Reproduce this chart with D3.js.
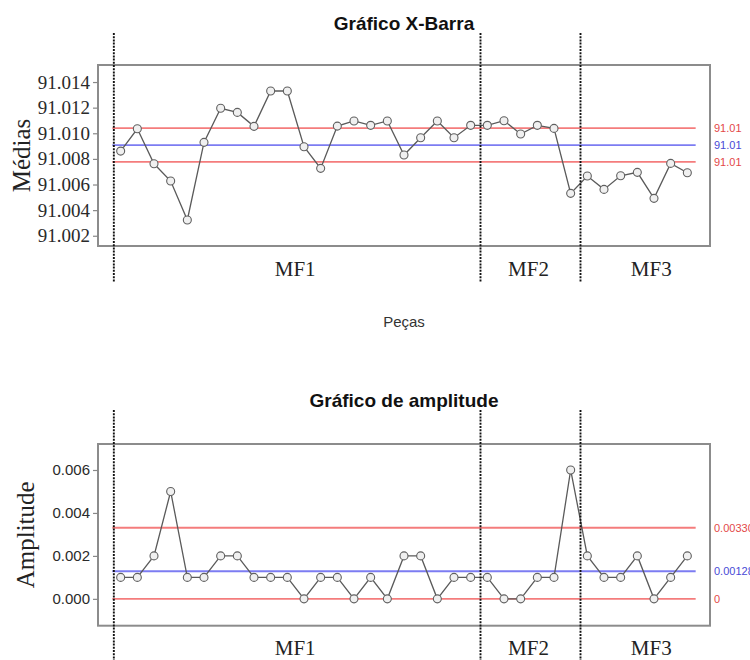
<!DOCTYPE html>
<html>
<head>
<meta charset="utf-8">
<script src="https://cdn.jsdelivr.net/npm/d3@7/dist/d3.min.js"></script>
<style>
  html, body { margin: 0; padding: 0; background: #fff; }
  svg { display: block; }
</style>
</head>
<body>
<script>
// Machine groups and how many parts each one contributed
const groupNames = ["MF1", "MF2", "MF3"];
const groupSizes = [22, 6, 7];

// Subgroup means (n = 3 measurements per part)
const meanValues = [
  91.00861, 91.01035, 91.00762, 91.00627, 91.00323, 91.00929, 91.01195, 91.01163,
  91.01054, 91.01330, 91.01330, 91.00895, 91.00726, 91.01056, 91.01096, 91.01062,
  91.01096, 91.00830, 91.00965, 91.01096, 91.00965, 91.01062, 91.01062, 91.01098,
  91.00994, 91.01062, 91.01038, 91.00531, 91.00666, 91.00562, 91.00668, 91.00695,
  91.00492, 91.00765, 91.00692
];

// Subgroup ranges
const rangeValues = [
  0.001, 0.001, 0.002, 0.005, 0.001, 0.001, 0.002, 0.002, 0.001, 0.001, 0.001, 0.000,
  0.001, 0.001, 0.000, 0.001, 0.000, 0.002, 0.002, 0.000, 0.001, 0.001, 0.001, 0.000,
  0.000, 0.001, 0.001, 0.006, 0.002, 0.001, 0.001, 0.002, 0.000, 0.001, 0.002
];

const meanTicks  = [91.002, 91.004, 91.006, 91.008, 91.010, 91.012, 91.014];
const rangeTicks = [0.000, 0.002, 0.004, 0.006];

// Shewhart constants for subgroups of size 3
const A2 = 1.023, D3 = 0, D4 = 2.574;

const W = 750, H = 660;
const SERIF = "'Liberation Serif', 'Times New Roman', serif";
const SANS  = "'Liberation Sans', Arial, sans-serif";

const svg = d3.select("body").append("svg")
  .attr("width", W).attr("height", H);

const n = meanValues.length;

// Shared horizontal scale (4% padding on each side)
const pad = (n - 1) * 0.04;
const x = d3.scaleLinear().domain([1 - pad, n + pad]).range([98, 710]);

// Group boundaries (index of last part before each group)
const bounds = [];
let acc = 0;
groupSizes.forEach(s => { bounds.push(acc); acc += s; });

const rBar = d3.mean(rangeValues);
const xBar = d3.mean(meanValues);

const fmtLimit = d3.format(".4~g");

function panel(opts) {
  const g = svg.append("g");
  const y = d3.scaleLinear().domain(opts.domain).range([opts.bottom, opts.top]);

  // Title
  g.append("text")
    .attr("x", (x.range()[0] + x.range()[1]) / 2)
    .attr("y", opts.titleY)
    .attr("text-anchor", "middle")
    .attr("font-family", SANS).attr("font-weight", "bold")
    .attr("font-size", 19).attr("fill", "#111")
    .text(opts.title);

  // Frame
  g.append("rect")
    .attr("x", x.range()[0]).attr("y", opts.top)
    .attr("width", x.range()[1] - x.range()[0])
    .attr("height", opts.bottom - opts.top)
    .attr("fill", "none").attr("stroke", "#8c8c8c").attr("stroke-width", 2);

  // Left axis
  const axis = g.append("g")
    .attr("transform", `translate(${x.range()[0]},0)`)
    .call(d3.axisLeft(y).tickValues(opts.ticks).tickFormat(d3.format(".3f"))
      .tickSize(5).tickPadding(3));
  axis.select(".domain").remove();
  axis.selectAll(".tick line").attr("stroke", "#888").attr("stroke-width", 1.2);
  axis.selectAll(".tick text")
    .attr("font-family", opts.tickFont).attr("font-size", opts.tickSize)
    .attr("fill", "#2a2a2a");

  // Y label
  g.append("text")
    .attr("transform", `translate(${opts.ylabX},${(opts.top + opts.bottom) / 2}) rotate(-90)`)
    .attr("text-anchor", "middle").attr("dominant-baseline", "central")
    .attr("font-family", SERIF).attr("font-size", 25).attr("fill", "#222")
    .text(opts.ylabel);

  // Control limits
  const x0 = x(0.5), x1 = x(n + 0.5);
  opts.limits.forEach(l => {
    g.append("line")
      .attr("x1", x0).attr("x2", x1)
      .attr("y1", y(l.value)).attr("y2", y(l.value))
      .attr("stroke", l.line).attr("stroke-width", 1.8);
    g.append("text")
      .attr("x", x.range()[1] + 4).attr("y", y(l.value))
      .attr("dominant-baseline", "central")
      .attr("font-family", SANS).attr("font-size", 11)
      .attr("fill", l.text)
      .text(fmtLimit(l.value));
  });

  // Series
  const line = d3.line().x((d, i) => x(i + 1)).y(d => y(d));
  g.append("path")
    .datum(opts.values)
    .attr("d", line)
    .attr("fill", "none").attr("stroke", "#5a5a5a").attr("stroke-width", 1.3);
  g.selectAll("circle.pt")
    .data(opts.values).join("circle")
    .attr("class", "pt")
    .attr("cx", (d, i) => x(i + 1)).attr("cy", d => y(d))
    .attr("r", 4)
    .attr("fill", "#f0f0f0").attr("stroke", "#606060").attr("stroke-width", 1.1);

  // Group dividers and labels
  const divX = bounds.map(b => x(b + 0.5) + 1.5);
  divX.forEach(dx => {
    g.append("line")
      .attr("x1", dx).attr("x2", dx)
      .attr("y1", opts.divTop).attr("y2", opts.divBottom)
      .attr("stroke", "#111").attr("stroke-width", 1.9)
      .attr("stroke-dasharray", "2,1.2");
  });
  groupNames.forEach((name, i) => {
    const left = divX[i];
    const right = i + 1 < divX.length ? divX[i + 1] : x.range()[1] + 16;
    g.append("text")
      .attr("x", (left + right) / 2 - 2).attr("y", opts.groupY)
      .attr("text-anchor", "middle")
      .attr("font-family", SERIF).attr("font-size", 21).attr("fill", "#222")
      .text(name);
  });
  return g;
}

const RED_LINE = "#f47c7c", RED_TXT = "#e34848";
const BLUE_LINE = "#7c7cf2", BLUE_TXT = "#4a4ad6";

// X-bar chart
panel({
  title: "Gráfico X-Barra", titleY: 30,
  top: 65, bottom: 246,
  domain: [91.0012, 91.01533],
  ticks: meanTicks, tickFont: SERIF, tickSize: 19,
  ylabel: "Médias", ylabX: 21,
  values: meanValues,
  limits: [
    { value: xBar + A2 * rBar, line: RED_LINE, text: RED_TXT },
    { value: xBar, line: BLUE_LINE, text: BLUE_TXT },
    { value: xBar - A2 * rBar, line: RED_LINE, text: RED_TXT }
  ],
  divTop: 33, divBottom: 282, groupY: 276
});

// Shared x-axis title
svg.append("text")
  .attr("x", 404).attr("y", 327)
  .attr("text-anchor", "middle")
  .attr("font-family", SANS).attr("font-size", 15).attr("fill", "#333")
  .text("Peças");

// Range chart
panel({
  title: "Gráfico de amplitude", titleY: 407,
  top: 444, bottom: 625.7,
  domain: [-0.00125, 0.00721],
  ticks: rangeTicks, tickFont: SANS, tickSize: 15,
  ylabel: "Amplitude", ylabX: 25,
  values: rangeValues,
  limits: [
    { value: D4 * rBar, line: RED_LINE, text: RED_TXT },
    { value: rBar, line: BLUE_LINE, text: BLUE_TXT },
    { value: D3 * rBar, line: RED_LINE, text: RED_TXT }
  ],
  divTop: 410, divBottom: 660, groupY: 655
});
</script>
</body>
</html>
